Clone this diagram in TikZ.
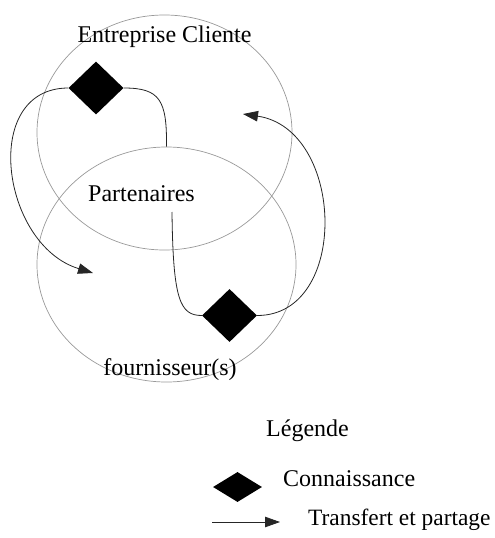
\documentclass[tikz,border=0pt]{standalone}
\usepackage{fontspec}
\setmainfont{Liberation Serif}
\usetikzlibrary{shapes.geometric}
\usetikzlibrary{arrows.meta}

\begin{document}
\begin{tikzpicture}
[x=1pt,y=-1pt,%
  zone/.style={shape=ellipse,draw=black!40,line width=0.7pt,inner sep=0pt},%
  know/.style={shape=diamond,fill=black,inner sep=0pt,minimum width=55,minimum height=53},%
  flow/.style={line width=0.8pt,draw=black!85},%
  tip/.style={-{Triangle[length=15pt,width=10.5pt]}},%
  every node/.style={font=\fontsize{24}{28}\selectfont}]
\useasboundingbox (0,0) rectangle (495,538);
\node[zone,minimum width=255,minimum height=235] (cli) at (164.5,132.5) {};
\node[zone,minimum width=259,minimum height=235] (four) at (166.5,264.5) {};
\node[anchor=base] (tcli) at (164.5,42) {Entreprise Cliente};
\node[anchor=base] (tpart) at (141.5,201) {Partenaires};
\node[anchor=base] (tfour) at (170,375) {fournisseur(s)};
\node[know] (kcli) at (96,88) {};
\node[know] (kfour) at (229.5,315.5) {};
\coordinate (p1) at (172,212);
\coordinate (a1) at (93,273);
\coordinate (a2) at (243,114);
\draw[flow] (kcli.east) .. controls (160,88) and (167,100) .. (four.north);
\draw[flow,tip] (kcli.west) .. controls (-20,88) and (1,245) .. (a1);
\draw[flow] (p1) .. controls (173,300) and (180,315.5) .. (kfour.west);
\draw[flow,tip] (kfour.east) .. controls (350,315.5) and (345,129) .. (a2);
% legende
\node[anchor=base] (leg) at (307.5,436) {Légende};
\node[know,minimum width=49,minimum height=30] (lkn) at (237.5,487) {};
\node[anchor=base west,inner sep=0pt] (lknt) at (283,486) {Connaissance};
\coordinate (l1) at (212,522);
\coordinate (l2) at (280,522);
\draw[flow,tip] (l1) -- (l2);
\node[anchor=base west,inner sep=0pt,font=\fontsize{23.4}{28}\selectfont] (lflt) at (308,525) {Transfert et partage};
\end{tikzpicture}
\end{document}
